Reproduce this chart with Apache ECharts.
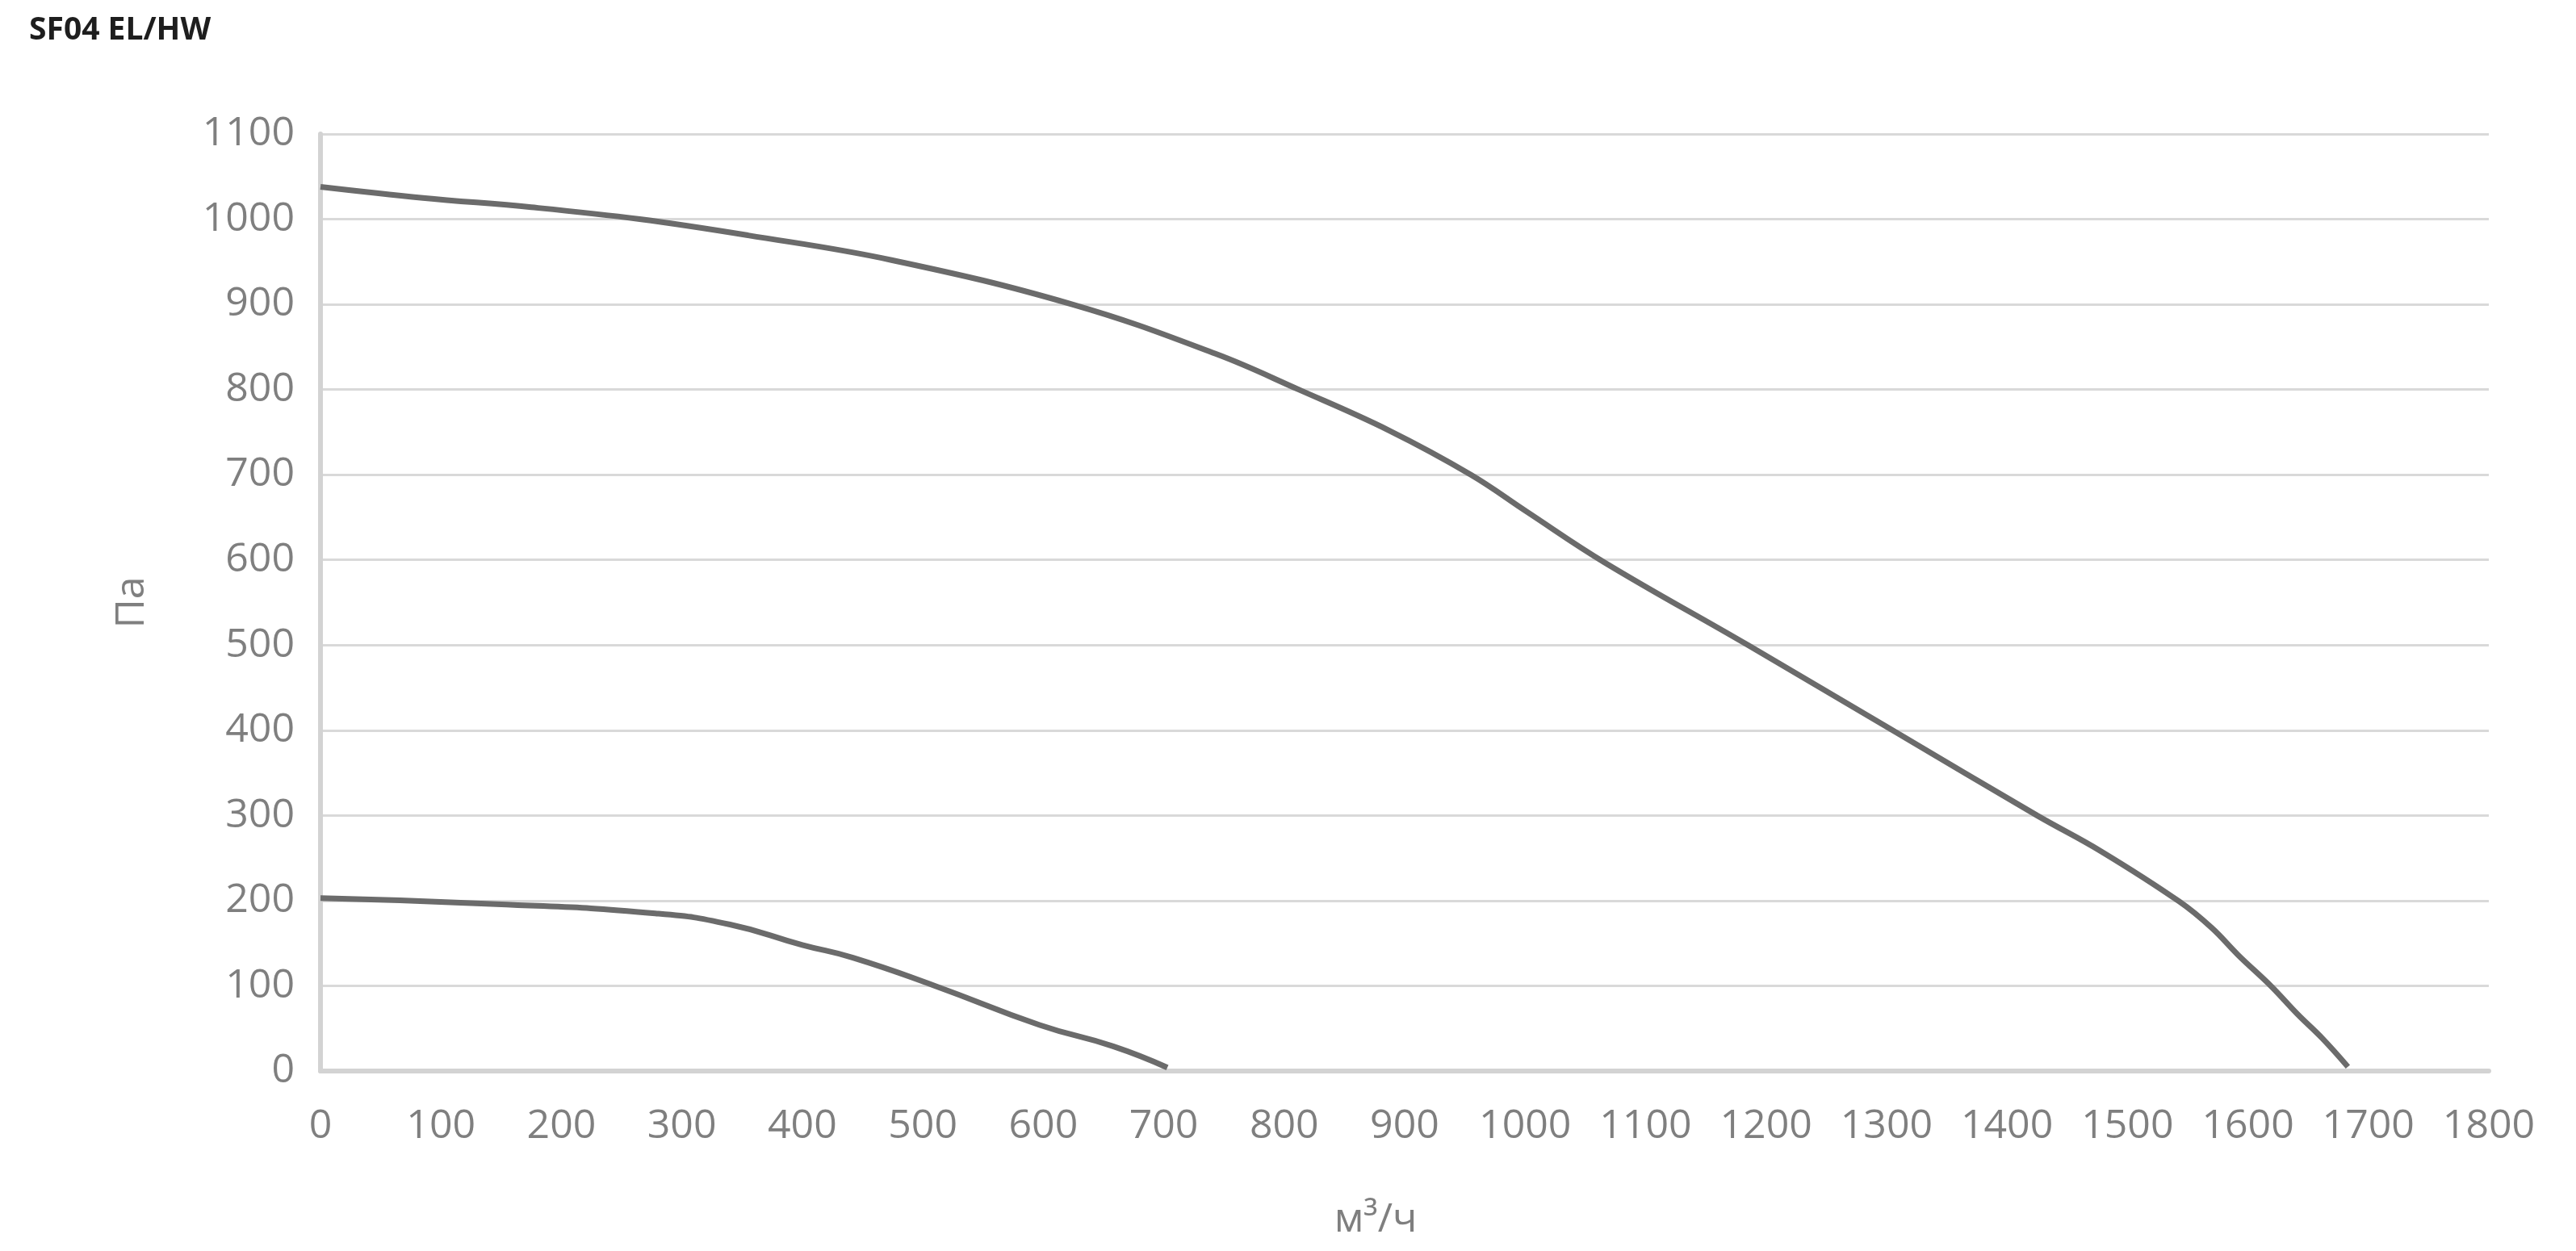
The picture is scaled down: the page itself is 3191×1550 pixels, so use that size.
<!DOCTYPE html>
<html>
<head>
<meta charset="utf-8">
<script src="https://cdn.jsdelivr.net/npm/echarts@6/dist/echarts.min.js"></script>
<style>
html,body{margin:0;padding:0;background:#fff;}
#chart{width:3191px;height:1550px;}
</style>
</head>
<body>
<div id="chart"></div>
<script>
const titleText = 'SF04 EL/HW';
const xAxisName = 'м³/ч';
const yAxisName = 'Па';
const xTicks = [0, 1800, 100];
const yTicks = [0, 1100, 100];

const upperFlow = [0, 85, 175, 265, 355, 474, 624, 743, 812, 887, 955, 1001, 1066, 1185, 1305, 1425, 1478, 1543, 1570, 1592, 1619, 1641, 1662, 1683];
const upperPressure = [1038, 1025, 1014, 1000, 981, 952, 900, 842, 800, 752, 700, 657, 597, 500, 400, 300, 258, 199, 168, 136, 100, 67, 38, 5];

const lowerFlow = [0, 146, 278, 340, 400, 442, 510, 597, 658, 703];
const lowerPressure = [203, 196, 185, 172, 148, 133, 100, 54, 29, 4];

const pairs = (xs, ys) => xs.map((x, i) => [x, ys[i]]);

const chart = echarts.init(document.getElementById('chart'), null, {renderer: 'canvas'});
const labelColor = '#7f7f7f';
const font = 'Open Sans';

chart.setOption({
  backgroundColor: '#ffffff',
  animation: false,
  title: {
    text: titleText,
    left: 36,
    top: 18,
    padding: 0,
    textStyle: {fontFamily: font, fontWeight: 'bold', fontSize: 39, color: '#1e1e1e'}
  },
  grid: {left: 397, right: 108, top: 166, bottom: 223, containLabel: false},
  xAxis: {
    type: 'value',
    min: xTicks[0], max: xTicks[1], interval: xTicks[2],
    name: xAxisName,
    nameLocation: 'middle',
    nameGap: 160,
    nameTextStyle: {fontFamily: font, fontSize: 50, color: labelColor, padding: [0, 72, 0, 0]},
    axisLine: {show: true, lineStyle: {color: '#d3d3d3', width: 6}},
    axisTick: {show: false},
    axisLabel: {fontFamily: font, fontSize: 50, color: labelColor, margin: 44, formatter: v => String(v)},
    splitLine: {show: false}
  },
  yAxis: {
    type: 'value',
    min: yTicks[0], max: yTicks[1], interval: yTicks[2],
    name: yAxisName,
    nameLocation: 'middle',
    nameGap: 208,
    nameTextStyle: {fontFamily: font, fontSize: 50, color: labelColor},
    axisLine: {show: true, lineStyle: {color: '#d3d3d3', width: 6}},
    axisTick: {show: false},
    axisLabel: {fontFamily: font, fontSize: 50, color: labelColor, margin: 32, formatter: v => String(v)},
    splitLine: {show: true, lineStyle: {color: '#d9d9d9', width: 3}}
  },
  series: [
    {
      type: 'line',
      data: pairs(upperFlow, upperPressure),
      showSymbol: false,
      smooth: 0.4,
      lineStyle: {color: '#6b6b6b', width: 7},
      itemStyle: {color: '#6b6b6b'}
    },
    {
      type: 'line',
      data: pairs(lowerFlow, lowerPressure),
      showSymbol: false,
      smooth: 0.5,
      lineStyle: {color: '#6b6b6b', width: 7},
      itemStyle: {color: '#6b6b6b'}
    }
  ]
});
</script>
</body>
</html>
